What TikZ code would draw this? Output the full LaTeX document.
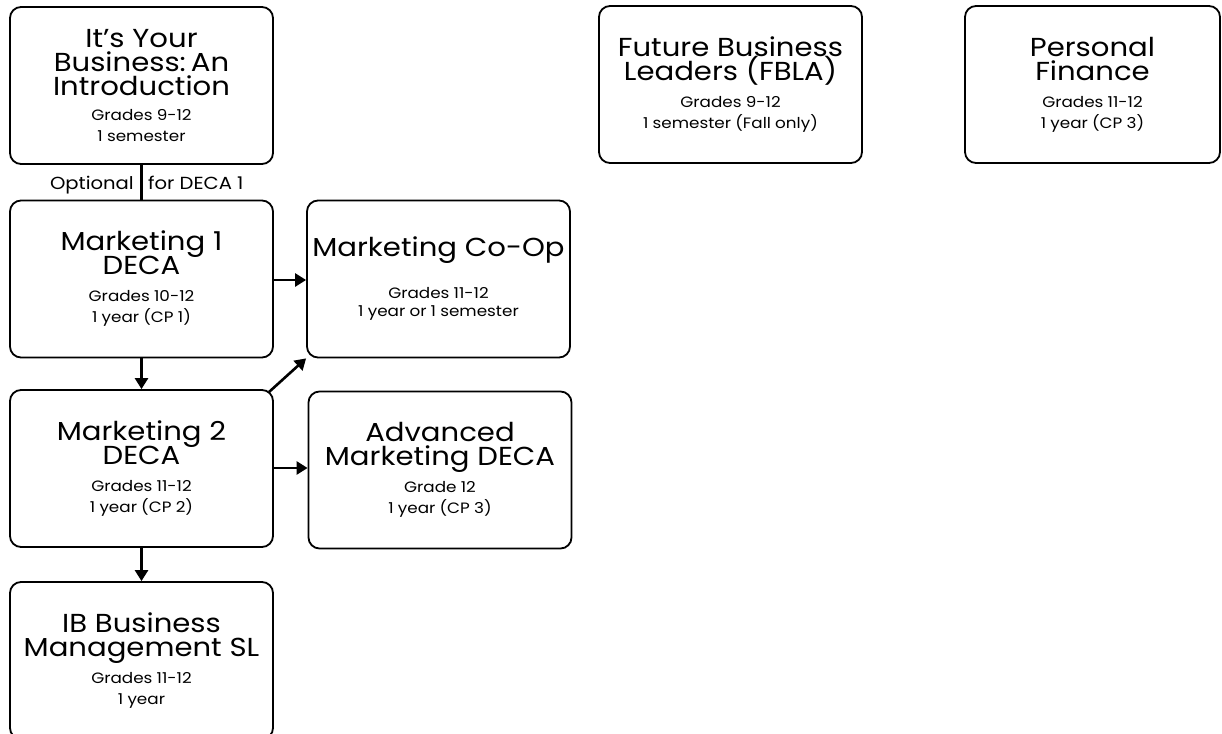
\documentclass[tikz,border=0pt]{standalone}
\usepackage{fontspec}
\setmainfont{Poppins}[FakeStretch=1.12]
\usetikzlibrary{arrows.meta}
\newcommand\ttl{\fontsize{26}{24}\selectfont\lineskiplimit=-30pt\spaceskip=0.3em\relax}
\newcommand\sbt{\fontsize{15}{21}\selectfont\lineskiplimit=-30pt\spaceskip=0.28em\relax}
\newcommand\sbtc{\fontsize{15}{18}\selectfont\lineskiplimit=-30pt\spaceskip=0.28em\relax}
\newcommand\lblf{\fontsize{17.5}{20}\selectfont}
\begin{document}
\begin{tikzpicture}[x=1pt,y=-1pt,
  box/.style={draw, line width=1.8pt, rounded corners=11pt, minimum width=263pt,
    minimum height=157pt, text width=259pt, align=center, inner sep=0pt, fill=white},
  arr/.style={-{Triangle[length=11pt,width=13pt]}, line width=2.6pt},
  lbl/.style={font=\lblf, inner sep=0pt}]
\useasboundingbox[fill=white] (0,0) rectangle (1222,733);

\node[box] (intro) at (141.5,85.5) {\ttl It’s Your\\Business: An\\Introduction\par\vspace{4pt}\sbt Grades 9-12\\1 semester\par};
\node[box] (m1) at (141.5,279) {\ttl Marketing 1\\DECA\par\vspace{6pt}\sbt Grades 10-12\\1 year (CP 1)\par};
\node[box] (coop) at (438.5,279) {\ttl Marketing Co-Op\par\vspace{24pt}\sbtc Grades 11-12\\1 year or 1 semester\par};
\node[box] (m2) at (141.5,468.5) {\ttl Marketing 2\\DECA\par\vspace{6pt}\sbt Grades 11-12\\1 year (CP 2)\par};
\node[box] (adv) at (440,470) {\ttl Advanced\\Marketing DECA\par\vspace{6pt}\sbt Grade 12\\1 year (CP 3)\par};
\node[box] (ib) at (141.5,660.5) {\ttl IB Business\\Management SL\par\vspace{6pt}\sbt Grades 11-12\\1 year\par};
\node[box] (fbla) at (730.5,84.5) {\ttl Future Business\\Leaders (FBLA)\par\vspace{6pt}\sbt Grades 9-12\\1 semester (Fall only)\par};
\node[box, minimum width=255pt, text width=251pt] (pf) at (1092.5,84.5) {\ttl Personal\\Finance\par\vspace{6pt}\sbt Grades 11-12\\1 year (CP 3)\par};

\draw[line width=2.6pt] (intro) -- (m1);
\node[lbl, anchor=base east] (opt) at (134,189) {Optional};
\node[lbl, anchor=base west] (for) at (148,189) {for DECA 1};

\draw[arr] (m1.east |- 0,280) -- (coop.west |- 0,280);
\draw[arr] (m1) -- (m2);
\draw[arr] (269,392) -- (coop.south west);
\draw[arr] (m2.east |- 0,468) -- (adv.west |- 0,468);
\draw[arr] (m2) -- (ib);
\end{tikzpicture}
\end{document}
